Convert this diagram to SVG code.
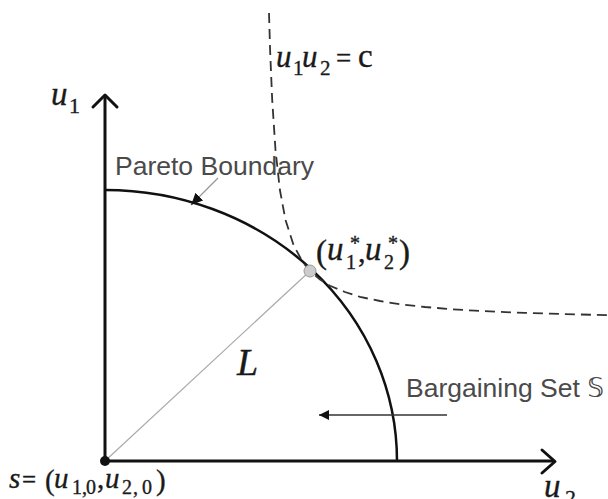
<svg xmlns="http://www.w3.org/2000/svg" width="608" height="499" viewBox="0 0 608 499">
<style>
.axis{fill:none;stroke:#111;stroke-width:3;stroke-linecap:round;stroke-linejoin:round}
.pareto{fill:none;stroke:#111;stroke-width:2.5}
.hyper{fill:none;stroke:#333;stroke-width:1.8;stroke-dasharray:10 6}
.guide{fill:none;stroke:#aaa;stroke-width:1.2}
.ptr{fill:none;stroke:#999;stroke-width:1.2}
.ptrk{fill:none;stroke:#333;stroke-width:1.5}
.lbl{font-family:"Liberation Sans","DejaVu Sans",Arial,sans-serif;font-size:26px;fill:#4a4a4a}
.m{font-family:"Liberation Serif","DejaVu Serif","Times New Roman",serif;fill:#1a1a1a;stroke:#1a1a1a;stroke-width:0.35}
.mi{font-style:italic}
</style>
<defs>
<marker id="ah" viewBox="0 0 10 10" refX="10" refY="5" markerWidth="10" markerHeight="10" markerUnits="userSpaceOnUse" orient="auto">
<path d="M0,0 L10,5 L0,10 Z" fill="#111"/>
</marker>
<marker id="ah2" viewBox="0 0 12 12" refX="12" refY="6" markerWidth="12" markerHeight="12" markerUnits="userSpaceOnUse" orient="auto">
<path d="M0,0.5 L12,6 L0,11.5 Z" fill="#111"/>
</marker>
</defs>

<g id="axes">
<path class="axis" d="M105,461 L105,97"/>
<path class="axis" d="M93,107 L105,95 L117,107"/>
<path class="axis" d="M105,461 L553,461"/>
<path class="axis" d="M542,450 L555,461.5 L542,473"/>
</g>

<g id="bargaining-set">
<path class="pareto" d="M105,190 A292,271 0 0 1 397,461"/>
</g>

<g id="hyperbola">
<polyline class="hyper" points="269,13 270.1,50 272.2,100 275.5,150 279.9,190 285.5,220 293.5,245 302.7,262 310.1,271 320,279.5 330,285.8 345,292 360,296.9 380,301 400,304.3 425,307 450,309.1 475,310.7 500,311.9 525,312.9 550,313.7 580,314.5 608,315.2"/>
</g>

<g id="connectors">
<line class="guide" x1="105" y1="461" x2="310" y2="271"/>
<line class="ptr" x1="218" y1="178" x2="191" y2="205" marker-end="url(#ah2)"/>
<line class="ptrk" x1="447" y1="415" x2="319" y2="415" marker-end="url(#ah)"/>
</g>

<g id="origin">
<circle cx="105" cy="461" r="5" fill="#111"/>
</g>

<g id="nash-point">
<circle cx="310" cy="271" r="6" fill="#ccc" stroke="#999" stroke-width="1"/>
</g>

<g id="labels">
<text class="lbl" x="115" y="175" textLength="199" lengthAdjust="spacingAndGlyphs">Pareto Boundary</text>
<text class="lbl" x="406" y="397" textLength="198" lengthAdjust="spacingAndGlyphs">Bargaining Set 𝕊</text>

<text class="m mi" x="51" y="105" font-size="33">u</text>
<text class="m" x="69" y="113" font-size="22">1</text>

<text class="m mi" x="276" y="67" font-size="31">u</text>
<text class="m" x="293" y="75" font-size="21">1</text>
<text class="m mi" x="302" y="67" font-size="31">u</text>
<text class="m" x="320" y="75" font-size="21">2</text>
<text class="m" x="336" y="67" font-size="27">=</text>
<text class="m" x="358" y="67" font-size="33">c</text>

<text class="m" x="316" y="263" font-size="33">(</text>
<text class="m mi" x="327" y="260" font-size="33">u</text>
<text class="m" x="350" y="250" font-size="20">*</text>
<text class="m" x="346" y="269" font-size="20">1</text>
<text class="m" x="358" y="262" font-size="30">,</text>
<text class="m mi" x="365" y="260" font-size="33">u</text>
<text class="m" x="388" y="250" font-size="20">*</text>
<text class="m" x="384" y="269" font-size="20">2</text>
<text class="m" x="399" y="263" font-size="33">)</text>

<text class="m mi" x="237" y="375" font-size="38">L</text>

<text class="m mi" x="9" y="488" font-size="29">s</text>
<text class="m" x="22" y="488" font-size="25">=</text>
<text class="m" x="45" y="490" font-size="29">(</text>
<text class="m mi" x="54" y="488" font-size="29">u</text>
<text class="m" x="72" y="494" font-size="20">1</text>
<text class="m" x="82" y="494" font-size="20">,</text>
<text class="m" x="86" y="494" font-size="20">0</text>
<text class="m" x="97" y="488" font-size="29">,</text>
<text class="m mi" x="105" y="488" font-size="29">u</text>
<text class="m" x="122" y="494" font-size="20">2</text>
<text class="m" x="133" y="494" font-size="20">,</text>
<text class="m" x="142" y="494" font-size="20">0</text>
<text class="m" x="156" y="490" font-size="29">)</text>

<text class="m mi" x="544" y="497" font-size="33">u</text>
<text class="m" x="565" y="505" font-size="22">2</text>
</g>
</svg>
